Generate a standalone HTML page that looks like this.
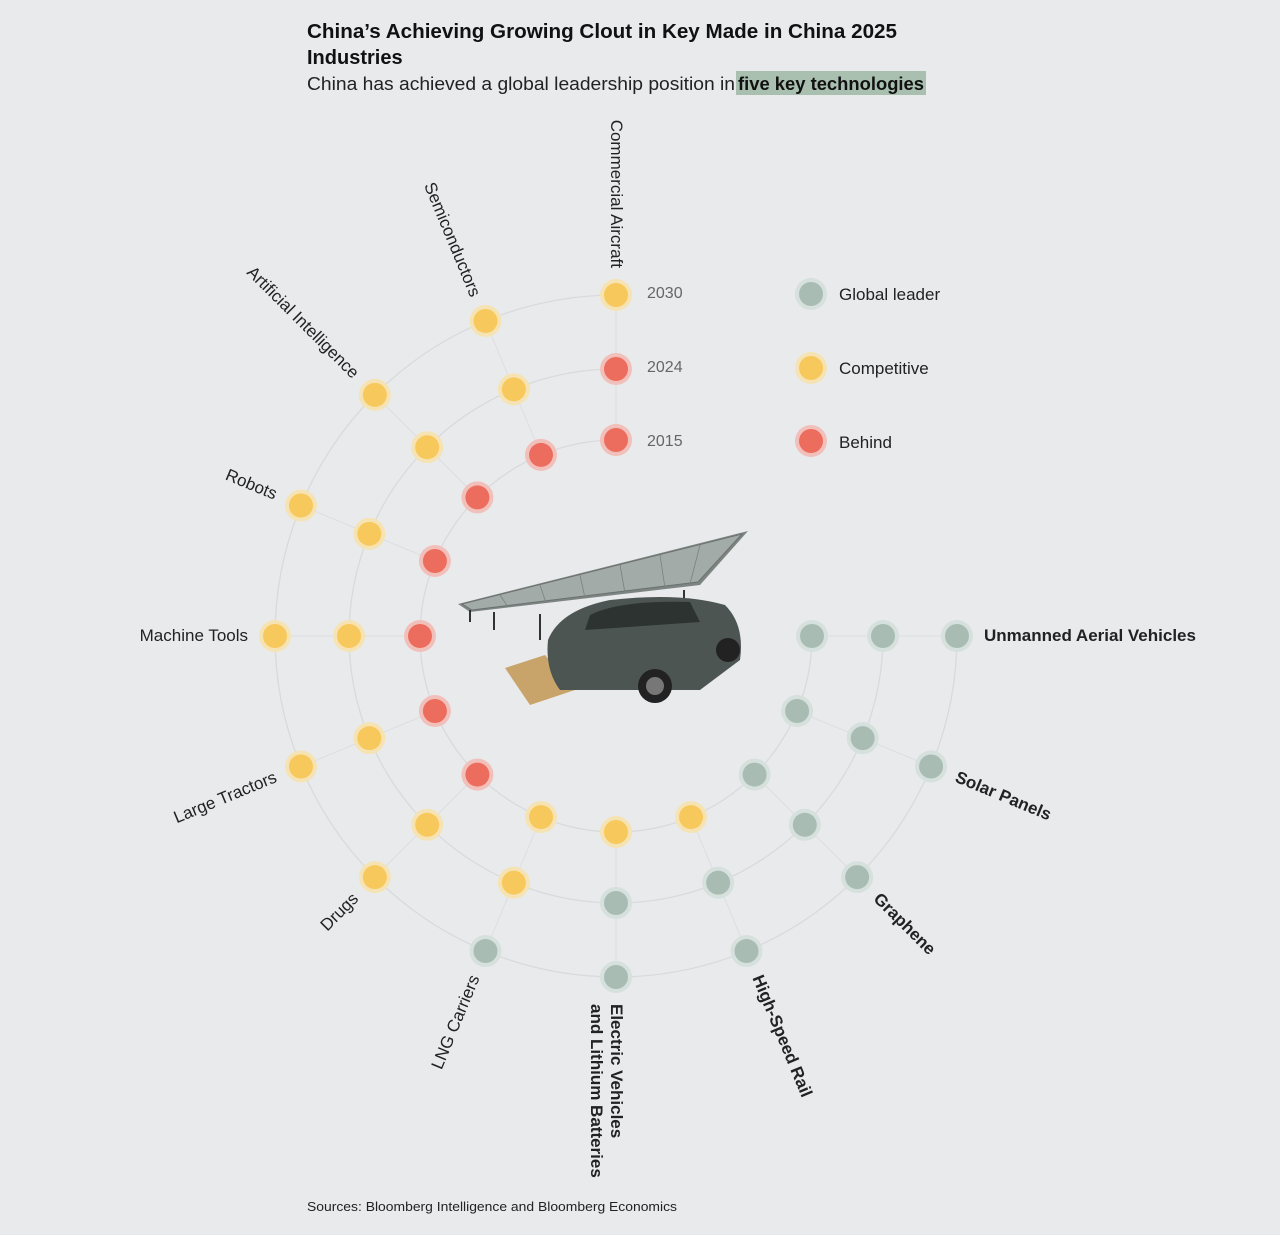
<!DOCTYPE html>
<html><head><meta charset="utf-8"><style>
body{margin:0;background:#e9eaec;font-family:"Liberation Sans",Arial,sans-serif;}
</style></head><body>
<svg width="1280" height="1230" viewBox="0 0 1280 1230" xmlns="http://www.w3.org/2000/svg" font-family="Liberation Sans, Arial, sans-serif">
<rect width="1280" height="1230" fill="#e9eaec"/>
<text x="307" y="38" font-size="20" font-weight="bold" fill="#111" textLength="590" lengthAdjust="spacingAndGlyphs">China’s Achieving Growing Clout in Key Made in China 2025</text>
<text x="307" y="64" font-size="20" font-weight="bold" fill="#111">Industries</text>
<rect x="736" y="71" width="190" height="24" fill="#a9c0b0"/>
<text x="307" y="90" font-size="18" fill="#222" textLength="428" lengthAdjust="spacingAndGlyphs">China has achieved a global leadership position in</text>
<text x="738" y="90" font-size="18" font-weight="bold" fill="#111" textLength="186" lengthAdjust="spacingAndGlyphs">five key technologies</text>
<g fill="none" stroke="#d9dadd" stroke-width="1.3">
<path d="M812 636 A196 196 0 1 1 616 440"/>
<path d="M883 636 A267 267 0 1 1 616 369"/>
<path d="M957 636 A341 341 0 1 1 616 295"/>
</g>
<g id="spokes" stroke="#dddee1" stroke-width="1"></g>
<g id="dots"></g>
<g id="labels" font-size="17" fill="#222"></g>
<!-- car / panel illustration -->
<polygon points="458,604 748,531 700,585 470,612" fill="#7d8583"/>
<polygon points="462,604 742,534 698,582 472,610" fill="#a3aba8" stroke="#6a716f" stroke-width="1"/>
<g stroke="#7a827f" stroke-width="0.8"><line x1="500" y1="595" x2="508" y2="607"/><line x1="540" y1="585" x2="546" y2="603"/><line x1="580" y1="575" x2="585" y2="598"/><line x1="620" y1="565" x2="625" y2="593"/><line x1="660" y1="555" x2="665" y2="588"/><line x1="700" y1="545" x2="690" y2="584"/></g>
<g stroke="#333" stroke-width="2"><line x1="470" y1="610" x2="470" y2="622"/><line x1="494" y1="612" x2="494" y2="630"/><line x1="540" y1="614" x2="540" y2="640"/><line x1="684" y1="590" x2="684" y2="610"/></g>
<polygon points="505,668 545,655 575,690 530,705" fill="#c9a46a"/>
<path d="M548 640 Q560 610 610 600 Q680 592 725 605 Q745 625 740 660 L700 690 L560 690 Q545 670 548 640Z" fill="#4d5553"/>
<path d="M590 615 Q620 600 690 602 L700 622 L585 630Z" fill="#2d3331"/>
<circle cx="655" cy="686" r="17" fill="#222"/><circle cx="655" cy="686" r="9" fill="#777"/>
<circle cx="728" cy="650" r="12" fill="#222"/>
<g font-size="16" fill="#666"><text x="647" y="298">2030</text><text x="647" y="372">2024</text><text x="647" y="446">2015</text></g>
<g font-size="17" fill="#222"><text x="839" y="300">Global leader</text><text x="839" y="374">Competitive</text><text x="839" y="448">Behind</text></g>
<text x="307" y="1211" font-size="13" fill="#222" textLength="370" lengthAdjust="spacingAndGlyphs">Sources: Bloomberg Intelligence and Bloomberg Economics</text>
<g id="legend"></g>
<script>
const cx=616,cy=636,R=[196,267,341];
const C={G:"#a9bcb4",Y:"#f7c85c",R:"#ec6c5e"};
const H={G:"#d6e0dc",Y:"#f6e3b4",R:"#f2c0ba"};
const cats=[["Unmanned Aerial Vehicles","GGG",1],["Solar Panels","GGG",1],["Graphene","GGG",1],["High-Speed Rail","YGG",1],["Electric Vehicles|and Lithium Batteries","YGG",1],["LNG Carriers","YYG",0],["Drugs","RYY",0],["Large Tractors","RYY",0],["Machine Tools","RYY",0],["Robots","RYY",0],["Artificial Intelligence","RYY",0],["Semiconductors","RYY",0],["Commercial Aircraft","RRY",0]];
const ns="http://www.w3.org/2000/svg";
function el(t,a,p){const e=document.createElementNS(ns,t);for(const k in a)e.setAttribute(k,a[k]);document.getElementById(p).appendChild(e);return e;}
function dot(x,y,c,p){el("circle",{cx:x,cy:y,r:16,fill:H[c]},p);el("circle",{cx:x,cy:y,r:12,fill:C[c]},p);}
cats.forEach((c,i)=>{const a=i*22.5,r=a*Math.PI/180,co=Math.cos(r),si=Math.sin(r);
el("line",{x1:cx+R[0]*co,y1:cy+R[0]*si,x2:cx+R[2]*co,y2:cy+R[2]*si},"spokes");
for(let k=0;k<3;k++)dot(cx+R[k]*co,cy+R[k]*si,c[1][k],"dots");
const rl=368,lx=cx+rl*co,ly=cy+rl*si;const right=a<=90;
const rot=right?a:a-180;
const t=el("text",{x:lx,y:ly+5,transform:`rotate(${rot} ${lx} ${ly})`,"text-anchor":right?"start":"end","font-weight":c[2]?"bold":"normal"},"labels");
const parts=c[0].split("|");
if(parts.length>1){parts.forEach((p,j)=>{const ts=document.createElementNS(ns,"tspan");ts.setAttribute("x",lx);ts.setAttribute("dy",j?"20":"0");ts.textContent=p;t.appendChild(ts);});}
else t.textContent=c[0];});
dot(811,294,"G","legend");dot(811,368,"Y","legend");dot(811,441,"R","legend");
</script>
</svg>
</body></html>
